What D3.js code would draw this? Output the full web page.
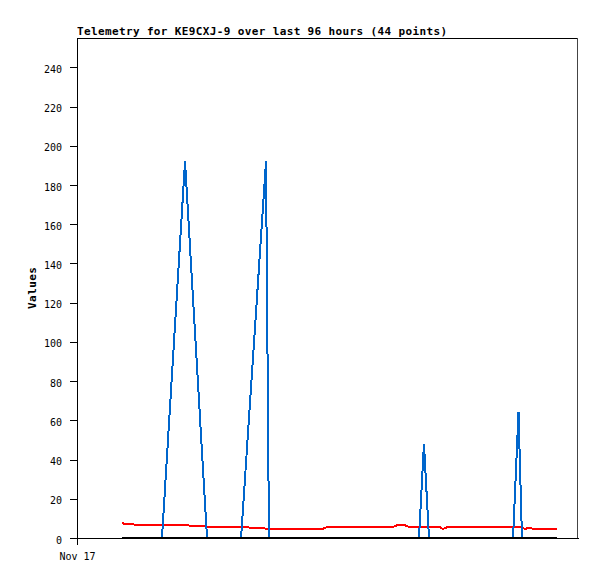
<!DOCTYPE html>
<html>
<head>
<meta charset="utf-8">
<script src="https://cdn.jsdelivr.net/npm/d3@7"></script>
<style>
  html, body { margin: 0; padding: 0; background: #fff; }
  svg { display: block; }
</style>
</head>
<body>
<svg id="chart" width="597" height="579"></svg>
<script>
// ---- data ----
const titleText = "Telemetry for KE9CXJ-9 over last 96 hours (44 points)";
const yLabel = "Values";
const times = [
  "2023-11-17T08:37", "2023-11-17T09:58", "2023-11-17T13:02", "2023-11-17T16:17",
  "2023-11-17T20:42", "2023-11-18T00:55", "2023-11-18T07:26", "2023-11-18T12:13",
  "2023-11-18T12:47", "2023-11-18T16:49", "2023-11-18T22:57", "2023-11-18T23:54",
  "2023-11-19T12:22", "2023-11-19T13:19", "2023-11-19T14:51", "2023-11-19T15:48",
  "2023-11-19T17:32", "2023-11-19T18:29", "2023-11-19T19:27", "2023-11-19T21:33",
  "2023-11-19T22:08", "2023-11-19T22:54", "2023-11-20T04:16", "2023-11-20T11:33",
  "2023-11-20T12:36", "2023-11-20T13:16", "2023-11-20T13:51", "2023-11-20T14:25",
  "2023-11-20T15:00", "2023-11-20T15:46", "2023-11-20T19:59"
];
const blueValues = [
  0, 0, 0, 0,
  192, 0, 0, 192,
  0, 0, 0, 0,
  0, 0, 0, 0,
  0, 48, 0, 0,
  0, 0, 0, 0,
  64, 0, 0, 0,
  0, 0, 0
];
const redValues = [
  7.5, 7.0, 6.6, 6.6,
  6.5, 5.8, 5.6, 4.8,
  4.7, 4.6, 4.6, 5.5,
  5.5, 6.5, 6.5, 5.5,
  5.5, 5.5, 5.5, 5.5,
  4.6, 5.5, 5.5, 5.5,
  5.5, 5.5, 4.5, 5.3,
  4.9, 4.6, 4.6
];
const blackValues = [
  0, 0, 0, 0, 0, 0, 0, 0, 0, 0, 0, 0, 0, 0, 0, 0,
  0, 0, 0, 0, 0, 0, 0, 0, 0, 0, 0, 0, 0, 0, 0
];
const yTicks = [0, 20, 40, 60, 80, 100, 120, 140, 160, 180, 200, 220, 240];
const xTickDates = ["2023-11-17T00:00"];
const xTickLabels = ["Nov 17"];
const xDomain = ["2023-11-17T00:00", "2023-11-21T00:00"];
const yDomain = [0, 255];

// ---- layout ----
const L = 77, R = 577, T = 38, B = 538;
const svg = d3.select("#chart");

const x = d3.scaleTime().domain(xDomain.map(s => new Date(s))).range([L, R + 1]);
const y = d3.scaleLinear().domain(yDomain).range([B, T]);

const mono = "'DejaVu Sans Mono', 'Liberation Mono', monospace";

// frame (top, right)
svg.append("line").attr("x1", L).attr("x2", R + 1).attr("y1", T + 0.5).attr("y2", T + 0.5)
  .attr("stroke", "#000").attr("stroke-width", 1);
svg.append("line").attr("x1", R + 0.5).attr("x2", R + 0.5).attr("y1", T).attr("y2", B + 1)
  .attr("stroke", "#444").attr("stroke-width", 1);

// data lines
const pts = (vals) => times.map((t, i) => [new Date(t), vals[i]]);
const lineGen = d3.line().x(d => x(d[0])).y(d => y(d[1]));
const series = [
  { vals: redValues, color: "#ff0000" },
  { vals: blueValues, color: "#0066cc" },
  { vals: blackValues, color: "#000000" }
];
series.forEach(s => {
  svg.append("path")
    .datum(pts(s.vals))
    .attr("d", lineGen)
    .attr("fill", "none")
    .attr("stroke", s.color)
    .attr("stroke-width", 2)
    .attr("stroke-linejoin", "miter")
    .attr("shape-rendering", "crispEdges");
});

// y axis
const yAxis = svg.append("g").attr("transform", `translate(${L},0)`)
  .call(d3.axisLeft(y).tickValues(yTicks).tickSize(7).tickSizeOuter(0).tickPadding(8));
yAxis.selectAll("text").attr("font-family", mono).attr("font-size", 10).attr("fill", "#000").attr("dy", "0.5em");
yAxis.selectAll("line, path").attr("stroke", "#000").attr("shape-rendering", "crispEdges");

// x axis
const xAxis = svg.append("g").attr("transform", `translate(0,${B})`)
  .call(d3.axisBottom(x).tickValues(xTickDates.map(s => new Date(s)))
    .tickFormat((d, i) => xTickLabels[i]).tickSize(7).tickSizeOuter(0).tickPadding(8));
xAxis.selectAll("text").attr("font-family", mono).attr("font-size", 10).attr("fill", "#000");
xAxis.selectAll("line, path").attr("stroke", "#000").attr("shape-rendering", "crispEdges");

// title
svg.append("text").attr("x", L).attr("y", 35)
  .attr("font-family", mono).attr("font-size", 11).attr("font-weight", "bold")
  .attr("textLength", 370).attr("lengthAdjust", "spacing")
  .text(titleText);

// y label
svg.append("text")
  .attr("transform", `translate(36,${(T + B) / 2}) rotate(-90)`)
  .attr("text-anchor", "middle")
  .attr("font-family", mono).attr("font-size", 11).attr("font-weight", "bold")
  .attr("textLength", 42).attr("lengthAdjust", "spacing")
  .text(yLabel);
</script>
</body>
</html>
